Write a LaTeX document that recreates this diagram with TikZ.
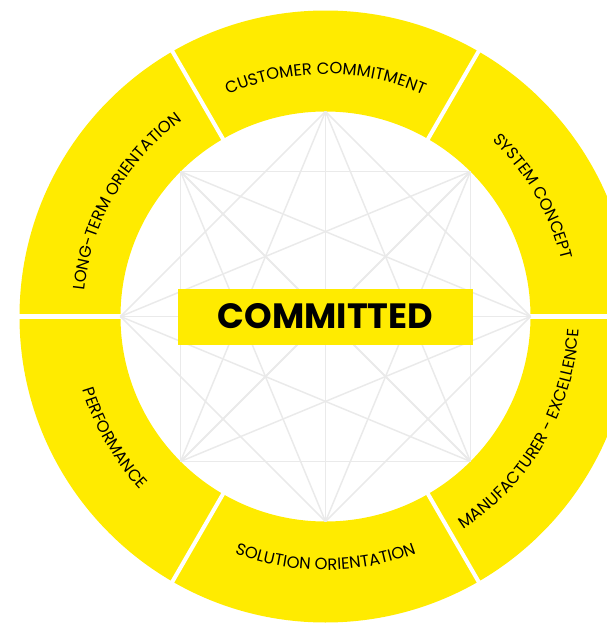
\documentclass[tikz,border=0pt]{standalone}
\usepackage{fontspec}
\setmainfont{Poppins}
\usetikzlibrary{decorations.text}
\definecolor{ringyellow}{RGB}{255,235,0}
\definecolor{webgrey}{RGB}{234,234,234}
\newcommand{\labelfont}{\fontsize{9.3}{11}\selectfont}
\tikzstyle{web} = [draw=webgrey, line width=0.85pt]
\tikzstyle{gap} = [draw=white, line width=2.3pt]
\tikzset{ringlabel/.style={decorate, decoration={text along path, text align=center, text={|\labelfont|#1}}}}

\begin{document}
\begin{tikzpicture}
    % Frame of the picture
    \clip (-6.51,-6.13) rectangle (5.63,6.33);
    % Yellow ring and the gaps between its parts
    \fill[ringyellow, even odd rule] (0,0) circle (6.12) (0,0) circle (4.1);
    \foreach \a in {0,60,...,300}
        \draw[gap] (\a:4.05) -- (\a:6.3);
    % Web inside the ring
    \foreach \i in {1,...,8}
        \coordinate (p\i) at ({90-45*(\i-1)}:4.1);
    \foreach \i in {1,...,8}
        \foreach \j in {2,3,4}
        {
            \pgfmathtruncatemacro{\k}{mod(\i+\j-1,8)+1}
            \draw[web] (p\i) -- (p\k);
        }
    \node[fill=ringyellow, minimum width=5.9cm, minimum height=1.12cm, font=\fontsize{20}{24}\selectfont\bfseries] (core) at (0,0) {COMMITTED};
    % Labels along the ring
    \path[ringlabel={LONG-TERM ORIENTATION}] (180:4.85) arc[start angle=180, end angle=120, radius=4.85];
    \path[ringlabel={CUSTOMER COMMITMENT}] (120:4.85) arc[start angle=120, end angle=60, radius=4.85];
    \path[ringlabel={SYSTEM CONCEPT}] (60:4.85) arc[start angle=60, end angle=0, radius=4.85];
    \path[ringlabel={PERFORMANCE}] (180:5.07) arc[start angle=180, end angle=240, radius=5.07];
    \path[ringlabel={SOLUTION ORIENTATION}] (240:5.07) arc[start angle=240, end angle=300, radius=5.07];
    \path[ringlabel={MANUFACTURER - EXCELLENCE}] (300:5.07) arc[start angle=300, end angle=360, radius=5.07];
\end{tikzpicture}
\end{document}
